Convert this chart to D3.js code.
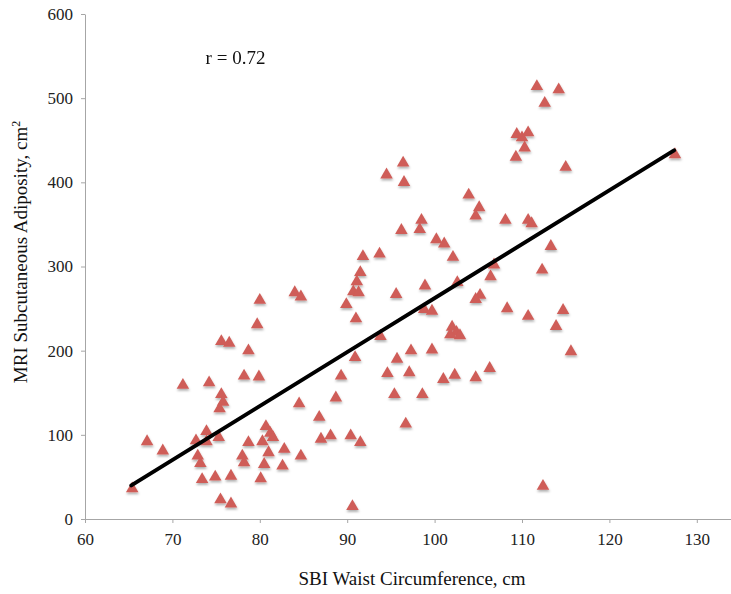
<!DOCTYPE html>
<html>
<head>
<meta charset="utf-8">
<script src="https://cdn.jsdelivr.net/npm/d3@7"></script>
<style>
  body { margin: 0; background: #fff; }
  svg { display: block; font-family: "Liberation Serif", "Times New Roman", serif; }
  .axis path, .axis line { stroke: #a6a6a6; }
</style>
</head>
<body>
<div id="wrapper"></div>
<script>
// waist circumference (cm) and subcutaneous fat area (cm2)
const waist = [
  65.4, 67.1, 68.9, 71.2, 74.2, 72.7, 73.9, 73.9, 72.9, 73.2,
  73.4, 74.9, 76.7, 75.5, 76.7, 75.3, 75.6, 75.8, 75.4, 78.2,
  79.9, 78.7, 78.0, 78.2, 80.1, 80.3, 75.6, 76.5, 78.7, 79.7,
  80.0, 91.8, 93.7, 91.5, 91.1, 90.7, 91.3, 89.9, 91.0, 84.0,
  84.7, 95.6, 98.9, 98.8, 99.7, 102.1, 93.8, 90.9, 89.3, 88.7,
  84.5, 86.8, 95.7, 97.3, 99.7, 94.6, 97.1, 101.0, 102.3, 95.4,
  98.6, 96.7, 80.7, 81.2, 81.5, 81.0, 80.5, 82.8, 82.6, 84.7,
  87.0, 88.1, 90.4, 91.5, 90.6, 96.4, 94.5, 96.5, 98.5, 98.3,
  96.2, 100.2, 101.1, 111.7, 114.2, 112.6, 109.4, 110.0, 110.7, 110.3,
  109.3, 115.0, 103.9, 105.1, 104.7, 108.1, 110.7, 111.1, 113.3, 106.8,
  112.3, 106.4, 102.6, 105.2, 104.7, 108.3, 110.7, 114.7, 113.9, 115.6,
  102.0, 102.5, 102.9, 101.8, 104.7, 106.3, 112.4, 127.5
]
const adiposity = [
  36, 92, 81, 159, 162, 93, 104, 92, 75, 66,
  47, 50, 51, 23, 18, 97, 148, 139, 131, 170,
  169, 91, 75, 67, 48, 92, 211, 209, 200, 231,
  260, 312, 315, 293, 282, 270, 269, 255, 238, 269,
  264, 267, 277, 249, 247, 311, 217, 192, 170, 144,
  137, 121, 190, 200, 201, 173, 174, 166, 171, 148,
  148, 113, 110, 102, 97, 79, 65, 83, 63, 75,
  95, 99, 99, 91, 15, 423, 409, 400, 355, 344,
  343, 332, 327, 514, 510, 494, 457, 453, 459, 441,
  430, 418, 385, 370, 360, 355, 355, 351, 324, 302,
  296, 288, 281, 266, 261, 250, 241, 248, 229, 199,
  228, 222, 218, 219, 168, 179, 39, 433
]

// least squares line end points as drawn in the picture
const fitX = [65.3, 127.4]
const fitY = [40, 438]

const xTicks = [60, 70, 80, 90, 100, 110, 120, 130]
const yTicks = [0, 100, 200, 300, 400, 500, 600]
const rLabel = "r = 0.72"

const dataset = waist.map((w, i) => ({ waist: w, fat: adiposity[i] }))
const fitLine = fitX.map((x, i) => ({ waist: x, fat: fitY[i] }))

const xAccessor = d => d.waist
const yAccessor = d => d.fat

const dimensions = {
  width: 731,
  height: 594,
  margins: { top: 14, left: 85, bottom: 75 },
}
dimensions.boundedHeight = dimensions.height - dimensions.margins.top - dimensions.margins.bottom

const svg = d3.select("#wrapper")
  .append("svg")
  .attr("width", dimensions.width)
  .attr("height", dimensions.height)

const shadow = svg.append("defs").append("filter")
  .attr("id", "shadow")
  .attr("x", "-50%").attr("y", "-50%")
  .attr("width", "200%").attr("height", "200%")
shadow.append("feDropShadow")
  .attr("dx", 0.5)
  .attr("dy", 2)
  .attr("stdDeviation", 1)
  .attr("flood-color", "#000")
  .attr("flood-opacity", 0.3)

const bounds = svg.append("g")
  .attr("transform", `translate(${dimensions.margins.left},${dimensions.margins.top})`)

// scales (x runs on past 130, the picture is cut off at the right)
const xScale = d3.scaleLinear()
  .domain([60, 140])
  .range([0, 8.74 * 80])

const yScale = d3.scaleLinear()
  .domain([0, 600])
  .range([dimensions.boundedHeight, 0])

// axes
const xAxis = bounds.append("g")
  .attr("class", "axis")
  .attr("transform", `translate(0,${dimensions.boundedHeight})`)
  .call(d3.axisBottom(xScale).tickValues(xTicks).tickSizeInner(4).tickSizeOuter(0).tickPadding(10))

const yAxis = bounds.append("g")
  .attr("class", "axis")
  .call(d3.axisLeft(yScale).tickValues(yTicks).tickSizeInner(4).tickSizeOuter(0).tickPadding(8))

bounds.selectAll(".axis text")
  .style("font-family", "'Liberation Serif', 'Times New Roman', serif")
  .style("font-size", "17px")
  .attr("fill", "#222")

// points
const triangle = d3.symbol(d3.symbolTriangle, 68)
bounds.append("g")
  .attr("filter", "url(#shadow)")
  .selectAll("path")
  .data(dataset)
  .join("path")
  .attr("d", triangle)
  .attr("transform", d => `translate(${xScale(xAccessor(d))},${yScale(yAccessor(d))})`)
  .attr("fill", "#cf5d58")

// trend line
const lineGenerator = d3.line()
  .x(d => xScale(xAccessor(d)))
  .y(d => yScale(yAccessor(d)))

bounds.append("path")
  .attr("d", lineGenerator(fitLine))
  .attr("fill", "none")
  .attr("stroke", "#000")
  .attr("stroke-width", 4)
  .attr("stroke-linecap", "round")

// labels
bounds.append("text")
  .attr("x", xScale(73.8))
  .attr("y", yScale(541))
  .attr("font-size", 19)
  .attr("fill", "#111")
  .text(rLabel)

svg.append("text")
  .attr("x", 412)
  .attr("y", 585)
  .attr("text-anchor", "middle")
  .attr("font-size", 19)
  .attr("fill", "#111")
  .text("SBI Waist Circumference, cm")

const yLabel = svg.append("text")
  .attr("transform", "translate(27,252) rotate(-90)")
  .attr("text-anchor", "middle")
  .attr("font-size", 19)
  .attr("fill", "#111")
yLabel.append("tspan").text("MRI Subcutaneous Adiposity, cm")
yLabel.append("tspan")
  .attr("font-size", 12)
  .attr("dy", -7)
  .text("2")
</script>
</body>
</html>
